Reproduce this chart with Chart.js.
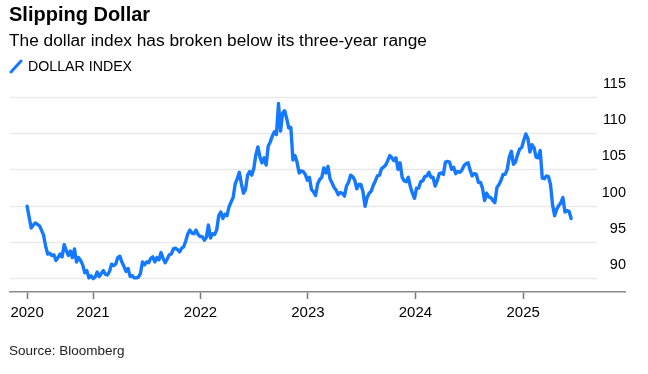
<!DOCTYPE html>
<html>
<head>
<meta charset="utf-8">
<script src="https://cdn.jsdelivr.net/npm/chart.js@4.4.1/dist/chart.umd.min.js"></script>
<style>
  html, body { margin: 0; padding: 0; background: #fff; }
  body { width: 648px; height: 374px; position: relative; overflow: hidden;
         font-family: "Liberation Sans", Arial, sans-serif; color: #000; }
  canvas { position: absolute; left: 0; top: 0; }
  .txt { position: absolute; left: 9px; line-height: 1; white-space: nowrap; }
  #title { top: 4px; font-size: 20px; font-weight: bold; }
  #subtitle { top: 32px; font-size: 17.3px; }
  #legend { top: 59px; left: 28px; font-size: 14.2px; }
  #swatch { position: absolute; left: 8px; top: 58px; }
  #source { top: 344px; font-size: 13.5px; color: #222; }
</style>
</head>
<body>
<canvas id="chart" width="648" height="374"></canvas>
<div id="title" class="txt">Slipping Dollar</div>
<div id="subtitle" class="txt">The dollar index has broken below its three-year range</div>
<svg id="swatch" width="16" height="16"><line x1="3" y1="14" x2="13" y2="3" stroke="#1479ff" stroke-width="3" stroke-linecap="round"/></svg>
<div id="legend" class="txt">DOLLAR INDEX</div>
<div id="source" class="txt">Source: Bloomberg</div>
<script>
// axis labels
const yearLabels = ['2020', '2021', '2022', '2023', '2024', '2025'];
const yTicks = [90, 95, 100, 105, 110, 115];

// weekly (Friday) readings, first one on this date
const firstWeek = '2020-05-22';
const dxy2020 = [99.9, 98.4, 96.9, 97.3, 97.6, 97.4, 97.2, 96.6, 95.9, 94.4, 93.3, 93.4, 93.1, 93.2, 92.4, 92.8,
                 93.3, 92.9, 94.6, 93.8, 93.1, 93.7, 92.8, 94.0, 92.2, 92.8, 92.4, 91.8, 90.7, 91.0, 90.0, 90.3];
const dxy2021 = [89.9, 90.1, 90.8, 90.2, 90.6, 91.0, 90.5, 90.4, 90.9, 91.9, 91.7, 91.9, 92.8, 93.0, 92.2, 91.6,
                 90.9, 91.3, 90.2, 90.3, 90.0, 90.0, 90.1, 90.6, 92.2, 91.8, 92.2, 92.1, 92.7, 92.9, 92.2, 92.8,
                 92.5, 93.5, 92.7, 92.1, 92.6, 93.2, 93.3, 94.0, 94.1, 93.9, 93.6, 94.1, 94.3, 95.1, 96.1, 96.6,
                 96.2, 96.1, 96.6, 96.0, 95.7];
const dxy2022 = [95.7, 95.2, 95.6, 97.3, 95.5, 96.1, 96.0, 96.6, 98.6, 99.1, 98.2, 98.8, 98.6, 99.8, 100.5, 101.1,
                 103.0, 103.7, 104.6, 103.0, 101.7, 102.2, 104.2, 104.7, 104.2, 105.1, 107.0, 108.1, 106.7, 105.9,
                 106.6, 105.6, 108.2, 108.8, 109.6, 110.2, 109.8, 114.1, 110.3, 112.8, 113.1, 112.0, 110.7, 110.8,
                 106.3, 106.9, 106.0, 104.5, 104.8, 104.7, 104.3, 103.5];
const dxy2023 = [103.9, 102.2, 101.9, 101.4, 103.0, 103.6, 103.9, 105.2, 104.5, 105.4, 103.7, 103.1, 102.5, 102.1,
                 101.5, 101.8, 101.7, 101.3, 102.7, 103.2, 104.2, 104.0, 103.5, 102.3, 102.9, 102.9, 101.9, 99.9,
                 101.1, 101.7, 102.0, 102.8, 103.4, 104.1, 104.2, 105.1, 105.3, 105.6, 106.2, 106.9, 106.6, 106.2,
                 106.6, 105.0, 105.9, 103.9, 103.4, 103.3, 103.9, 102.6, 101.7, 101.0];
const dxy2024 = [102.4, 102.4, 103.3, 103.4, 104.0, 104.1, 104.6, 103.9, 103.9, 102.7, 103.4, 104.4, 104.5, 104.3,
                 106.0, 106.1, 106.0, 105.0, 105.3, 104.4, 104.7, 104.6, 104.9, 105.5, 105.8, 105.9, 104.9, 104.1,
                 104.4, 104.3, 103.2, 103.2, 102.4, 100.7, 101.7, 101.2, 101.1, 100.7, 100.4, 102.5, 102.9, 103.5,
                 104.3, 104.3, 105.0, 106.7, 107.5, 105.7, 106.0, 107.0, 107.8, 108.0];
const dxy2025 = [109.0, 109.9, 109.3, 107.4, 108.4, 108.0, 106.7, 106.6, 107.6, 103.8, 103.7, 104.1, 104.0, 102.9,
                 100.1, 98.6, 99.5, 100.0, 100.4, 101.1, 99.1, 99.3, 99.2, 98.2];

const dollarIndex = [].concat(dxy2020, dxy2021, dxy2022, dxy2023, dxy2024, dxy2025);

const DAY = 864e5;
const start = Date.parse(firstWeek);
const points = dollarIndex.map((v, i) => ({ x: start + i * 7 * DAY, y: v }));
// first year label sits at the start of the data, the others on 1 January
const xTicks = yearLabels.map((y, i) => i === 0 ? start : Date.UTC(+y, 0, 1));

const FONT = '"Liberation Sans", Arial, sans-serif';

// horizontal grid lines stop short of the value labels
const gridLines = {
    id: 'gridLines',
    beforeDatasetsDraw(chart) {
        const { ctx, chartArea, scales: { y } } = chart;
        ctx.save();
        ctx.strokeStyle = '#e9e9e9';
        ctx.lineWidth = 1.3;
        yTicks.forEach(v => {
            const py = Math.round(y.getPixelForValue(v)) + 0.5;
            ctx.beginPath();
            ctx.moveTo(chartArea.left, py);
            ctx.lineTo(chartArea.right - 28, py);
            ctx.stroke();
        });
        ctx.restore();
    }
};

new Chart(document.getElementById('chart'), {
    type: 'line',
    data: {
        datasets: [{
            label: 'DOLLAR INDEX',
            data: points,
            borderColor: '#1479ff',
            borderWidth: 3.4,
            borderJoinStyle: 'round',
            borderCapStyle: 'round',
            pointRadius: 0,
            tension: 0,
            clip: false,
        }],
    },
    options: {
        responsive: false,
        animation: false,
        devicePixelRatio: 1,
        layout: { padding: { left: 10, right: 23, top: 97, bottom: 52 } },
        plugins: {
            legend: { display: false },
            tooltip: { enabled: false },
        },
        scales: {
            x: {
                type: 'linear',
                min: Date.UTC(2020, 2, 25),
                max: Date.UTC(2025, 11, 13),
                afterBuildTicks: s => { s.ticks = xTicks.map(v => ({ value: v })); },
                afterFit: s => { s.height = 30; },
                ticks: {
                    callback: (v, i) => yearLabels[i],
                    autoSkip: false,
                    maxRotation: 0,
                    padding: 5,
                    color: '#000',
                    font: { family: FONT, size: 15 },
                },
                grid: {
                    drawOnChartArea: false,
                    drawTicks: true,
                    tickLength: 7,
                    tickColor: '#777',
                    tickWidth: 1.5,
                },
                border: { display: true, color: '#8a8a8a', width: 1.5 },
            },
            y: {
                position: 'right',
                min: 88.05,
                max: 115,
                afterBuildTicks: s => { s.ticks = yTicks.map(v => ({ value: v })); },
                afterFit: s => { s.width = 0; },
                ticks: {
                    mirror: true,
                    padding: 1,
                    labelOffset: -13,
                    color: '#000',
                    font: { family: FONT, size: 14.5 },
                },
                grid: { display: false },
                border: { display: false },
            },
        },
    },
    plugins: [gridLines],
});
</script>
</body>
</html>
